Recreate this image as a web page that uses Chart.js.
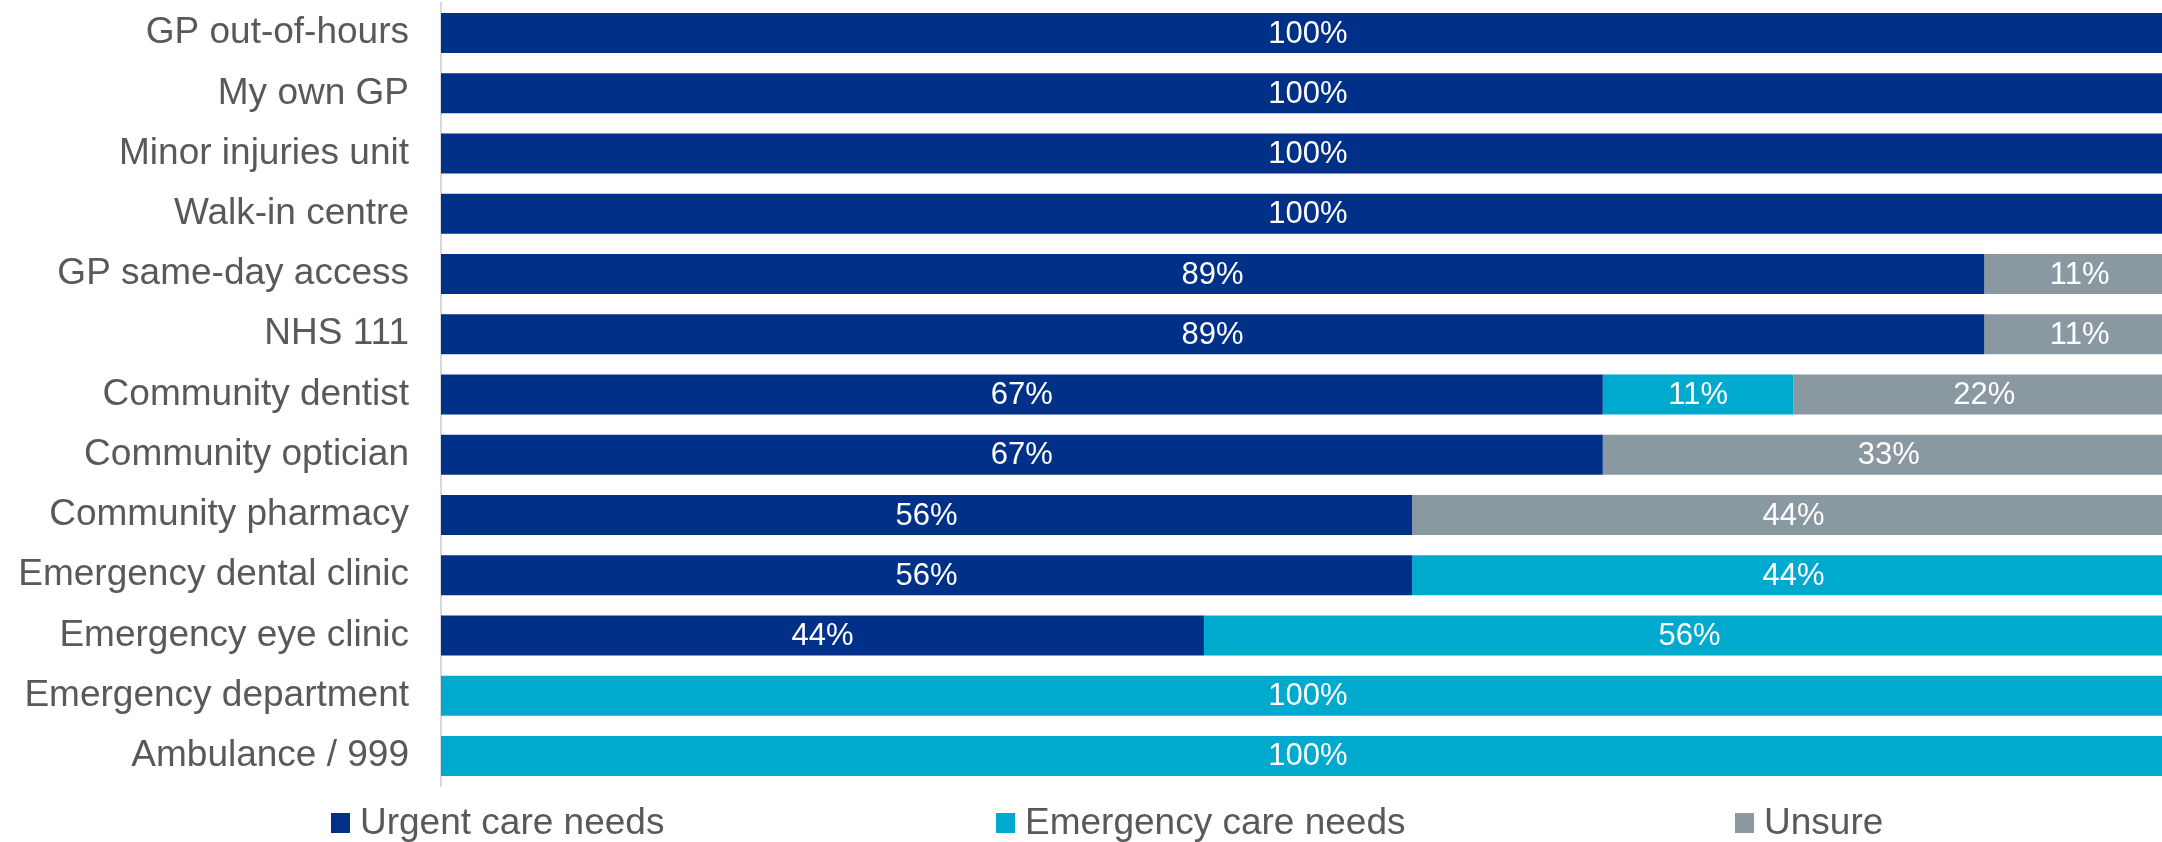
<!DOCTYPE html>
<html>
<head>
<meta charset="utf-8">
<script src="https://cdn.jsdelivr.net/npm/chart.js@4.4.1/dist/chart.umd.min.js"></script>
<style>
  body { margin: 0; background: #ffffff; overflow: hidden; }
</style>
</head>
<body>
<canvas id="servicos" width="2162" height="842"></canvas>
<script>
var categorias = [
  "GP out-of-hours",
  "My own GP",
  "Minor injuries unit",
  "Walk-in centre",
  "GP same-day access",
  "NHS 111",
  "Community dentist",
  "Community optician",
  "Community pharmacy",
  "Emergency dental clinic",
  "Emergency eye clinic",
  "Emergency department",
  "Ambulance / 999",
];
var urgenteData = [100, 100, 100, 100, 89, 89, 67, 67, 56, 56, 44, 0, 0];
var emergenciaData = [0, 0, 0, 0, 0, 0, 11, 0, 0, 44, 56, 100, 100];
var incertoData = [0, 0, 0, 0, 11, 11, 22, 33, 44, 0, 0, 0, 0];
var seriesNomes = ["Urgent care needs", "Emergency care needs", "Unsure"];

var cores = ["#003087", "#00a9ce", "#8a98a2"];
var fonte = "'Liberation Sans', Arial, sans-serif";

Chart.defaults.font.family = fonte;

// rotulos de porcentagem no meio de cada segmento
var rotulosBarras = {
  id: "rotulosBarras",
  afterDatasetsDraw: function (chart) {
    var ctx = chart.ctx;
    ctx.save();
    ctx.font = "31px " + fonte;
    ctx.fillStyle = "#ffffff";
    ctx.textAlign = "center";
    ctx.textBaseline = "middle";
    chart.data.datasets.forEach(function (ds, i) {
      var meta = chart.getDatasetMeta(i);
      meta.data.forEach(function (barra, j) {
        var valor = ds.data[j];
        if (!valor) return;
        var p = barra.getProps(["x", "y", "base"], true);
        ctx.fillText(valor + "%", (p.x + p.base) / 2, p.y + 1);
      });
    });
    ctx.restore();
  },
};

// legenda embaixo, itens espalhados como no relatorio
var legendaManual = {
  id: "legendaManual",
  afterDraw: function (chart) {
    var ctx = chart.ctx;
    var posX = [331, 996, 1735];
    var centroY = 823;
    ctx.save();
    ctx.font = "37px " + fonte;
    ctx.textBaseline = "middle";
    ctx.textAlign = "left";
    for (var i = 0; i < seriesNomes.length; i++) {
      ctx.fillStyle = cores[i];
      ctx.fillRect(posX[i], centroY - 10, 19, 20);
      ctx.fillStyle = "#595959";
      ctx.fillText(seriesNomes[i], posX[i] + 29, centroY + 1);
    }
    ctx.restore();
  },
};

new Chart(servicos, {
  type: "bar",
  data: {
    labels: categorias,
    datasets: [
      { label: seriesNomes[0], data: urgenteData, backgroundColor: cores[0] },
      { label: seriesNomes[1], data: emergenciaData, backgroundColor: cores[1] },
      { label: seriesNomes[2], data: incertoData, backgroundColor: cores[2] },
    ],
  },
  options: {
    indexAxis: "y",
    responsive: false,
    animation: false,
    datasets: {
      bar: {
        categoryPercentage: 1,
        barPercentage: 0.664,
      },
    },
    layout: {
      padding: { top: 3, bottom: 56, left: 0, right: 0 },
    },
    scales: {
      x: {
        stacked: true,
        display: false,
        min: 0,
        max: 99.25,
      },
      y: {
        stacked: true,
        grid: {
          display: false,
        },
        border: {
          display: true,
          color: "#d9d9d9",
          width: 2,
        },
        ticks: {
          color: "#595959",
          padding: 24,
          font: {
            size: 37,
          },
        },
        afterFit: function (escala) {
          escala.width = 441;
          escala.paddingTop = 0;
          escala.paddingBottom = 0;
        },
      },
    },
    plugins: {
      legend: {
        display: false,
      },
      tooltip: {
        enabled: false,
      },
    },
  },
  plugins: [rotulosBarras, legendaManual],
});
</script>
</body>
</html>
